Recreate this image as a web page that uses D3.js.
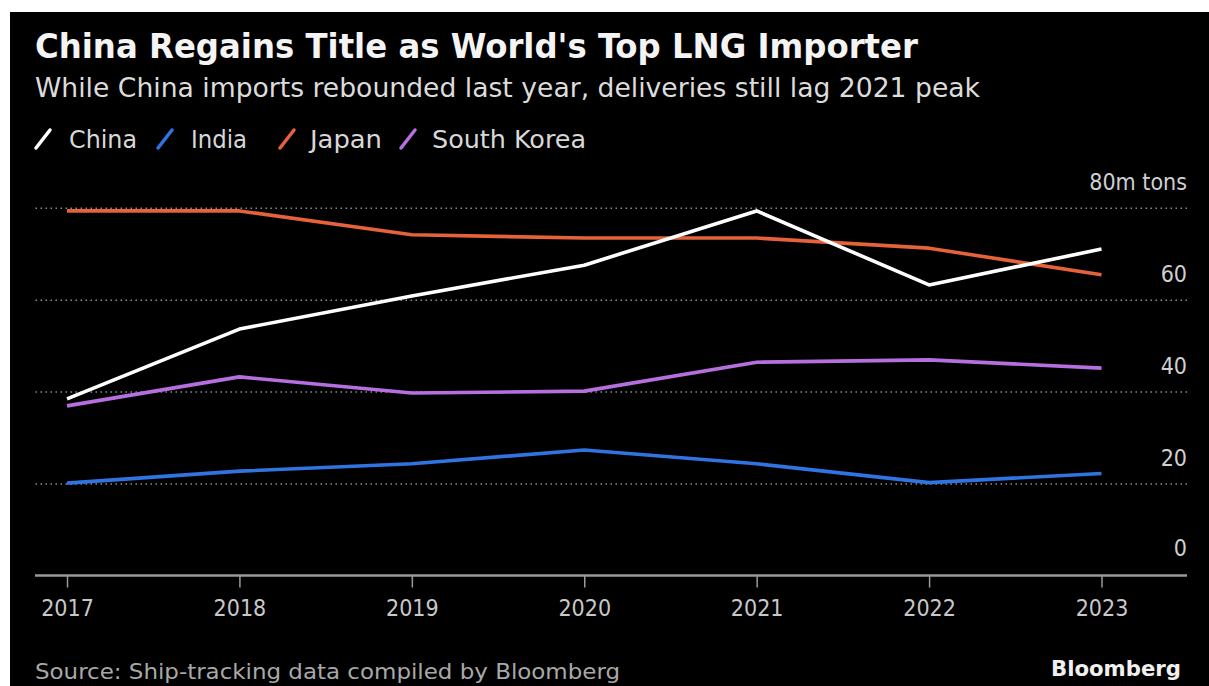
<!DOCTYPE html>
<html><head><meta charset="utf-8">
<script src="https://cdn.jsdelivr.net/npm/d3@7"></script>
<style>
html,body{margin:0;padding:0;background:#fff;}
svg{display:block;}
text{font-family:"DejaVu Sans Condensed","DejaVu Sans",sans-serif;font-stretch:condensed;}
</style></head>
<body>
<svg id="c" width="1209" height="686"></svg>
<script>
const years = [2017, 2018, 2019, 2020, 2021, 2022, 2023];
const china = [38.4, 53.6, 60.8, 67.5, 79.3, 63.2, 71.0];
const india = [20.1, 22.7, 24.3, 27.3, 24.3, 20.2, 22.2];
const japan = [79.3, 79.3, 74.1, 73.4, 73.4, 71.2, 65.4];
const southKorea = [36.9, 43.2, 39.7, 40.1, 46.4, 46.9, 45.1];
const seriesNames = ["China", "India", "Japan", "South Korea"];
const seriesColors = ["#ffffff", "#2f74e0", "#e5623a", "#b76fe0"];
const yTicks = [0, 20, 40, 60, 80];

const seriesValues = [china, india, japan, southKorea];
const svg = d3.select("#c");
svg.append("rect").attr("x",10).attr("y",12).attr("width",1199).attr("height",674).attr("fill","#000");

const x = d3.scaleLinear().domain([2017, 2023]).range([67, 1101.5]);
const y = d3.scaleLinear().domain([0, 80]).range([575.5, 207.7]);
const left = 35, right = 1187;

function fitText(sel, w){ sel.attr("textLength", w).attr("lengthAdjust","spacingAndGlyphs"); }
fitText(svg.append("text").attr("x",35).attr("y",58).attr("fill","#f4f4f4")
  .attr("font-size",33).attr("font-weight","bold").text("China Regains Title as World's Top LNG Importer"), 883);
fitText(svg.append("text").attr("x",35).attr("y",97).attr("fill","#dcdcdc")
  .attr("font-size",27).text("While China imports rebounded last year, deliveries still lag 2021 peak"), 945);

// legend
const legX = [[36,69,68],[158,191,56],[280,310,72],[401,432,154]];
seriesNames.forEach((n,i)=>{
  const g = svg.append("g");
  g.append("line").attr("x1",legX[i][0]).attr("y1",148).attr("x2",legX[i][0]+14).attr("y2",130)
    .attr("stroke",seriesColors[i]).attr("stroke-width",3.5).attr("stroke-linecap","round");
  fitText(g.append("text").attr("x",legX[i][1]).attr("y",148).attr("fill","#d8d8d8").attr("font-size",24).text(n), legX[i][2]);
});

// y grid + labels
const yAxis = d3.axisRight(y).tickValues(yTicks).tickSize(-(right-left)).tickFormat(d=> d===80 ? "80m tons" : d);
const gy = svg.append("g").attr("transform",`translate(${right},0)`).call(yAxis);
gy.select(".domain").remove();
gy.selectAll(".tick line").attr("stroke", d=> d===0 ? "none" : "#8a8a8a").attr("stroke-width",1.5).attr("stroke-dasharray","1.5,3.5");
gy.selectAll(".tick text").attr("x",0).attr("dy", d=> d===0 ? -20 : -18).attr("text-anchor","end")
  .attr("fill","#d0d0d0").attr("font-size",23);

// x axis
const xAxis = d3.axisBottom(x).tickValues(years).tickFormat(d3.format("d")).tickSize(12).tickPadding(12);
const gx = svg.append("g").attr("transform",`translate(0,${y(0)})`).call(xAxis);
gx.select(".domain").attr("d",`M${left},0H${right}`).attr("stroke","#9a9a9a").attr("stroke-width",2.5);
gx.selectAll(".tick line").attr("stroke","#9a9a9a").attr("stroke-width",1.5);
gx.selectAll(".tick text").attr("fill","#c8c8c8").attr("font-size",23);

// lines
const line = d3.line().x((d,i)=>x(years[i])).y(d=>y(d));
const order = [1,3,2,0];
order.forEach(i=>{
  svg.append("path").attr("d", line(seriesValues[i])).attr("fill","none")
    .attr("stroke",seriesColors[i]).attr("stroke-width",3.6).attr("stroke-linejoin","round");
});

// footer
fitText(svg.append("text").attr("x",35).attr("y",679).attr("fill","#a8a8a8").attr("font-size",22)
  .text("Source: Ship-tracking data compiled by Bloomberg"), 585);
fitText(svg.append("text").attr("x",1181).attr("y",676).attr("text-anchor","end").attr("fill","#f0f0f0")
  .attr("font-size",22).attr("font-weight","bold").text("Bloomberg"), 130);
</script>
</body></html>
